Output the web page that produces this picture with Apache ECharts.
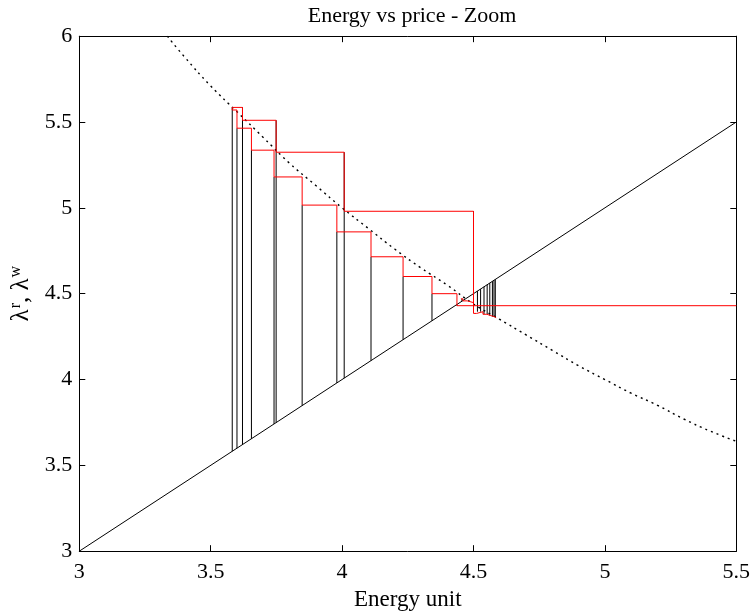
<!DOCTYPE html>
<html>
<head>
<meta charset="utf-8">
<script src="https://cdn.jsdelivr.net/npm/echarts@6/dist/echarts.min.js"></script>
<style>
html, body { margin: 0; padding: 0; background: #fff; }
#chart { width: 751px; height: 611px; }
</style>
</head>
<body>
<div id="chart"></div>
<script>
// Axis ticks
const xTicks = [3, 3.5, 4, 4.5, 5, 5.5];
const yTicks = [3, 3.5, 4, 4.5, 5, 5.5, 6];

// Supply line (lambda = energy)
const supplyX = [3, 5.5];
const supplyY = [3, 5.5];

// Demand curve (dotted)
const demandX = [3.335, 3.4, 3.5, 3.6, 3.7, 3.8, 3.9, 4.0, 4.1, 4.2, 4.3, 4.4, 4.5, 4.6, 4.7, 4.8, 4.9, 5.0, 5.1, 5.2, 5.3, 5.4, 5.5];
const demandY = [6.00, 5.88, 5.71, 5.56, 5.41, 5.26, 5.13, 5.00, 4.88, 4.76, 4.65, 4.55, 4.44, 4.35, 4.26, 4.17, 4.08, 4.00, 3.92, 3.85, 3.77, 3.70, 3.64];

// Upper price staircase: level k spans upperX[k] .. upperX[k+1]
const upperX = [3.582, 3.621, 3.749, 4.008, 4.500];
const upperP = [5.585, 5.510, 5.324, 4.980, 4.385];

// Tail of the upper staircase around 4.5 - 4.58
const tailX = [4.500, 4.512, 4.536, 4.551, 4.566, 4.580, 4.586];
const tailP = [4.385, 4.395, 4.380, 4.372, 4.366, 4.360];

// Lower price staircase: level k spans lowerX[k] .. lowerX[k+1]
const lowerX = [3.582, 3.600, 3.655, 3.741, 3.848, 3.980, 4.110, 4.232, 4.342, 4.437, 5.5];
const lowerP = [5.570, 5.464, 5.336, 5.180, 5.016, 4.860, 4.715, 4.600, 4.500, 4.430];

// Small oscillation near the equilibrium point
const eqX = [4.452, 4.460, 4.460, 4.476, 4.476, 4.500];
const eqY = [4.470, 4.470, 4.458, 4.458, 4.448, 4.448];

// Black bars in the dense cluster right of equilibrium
const clusterX = [4.515, 4.527, 4.540, 4.552, 4.562, 4.572, 4.578, 4.583];
const clusterLow = [4.395, 4.395, 4.380, 4.380, 4.372, 4.366, 4.366, 4.360];

const FONT = 'Liberation Serif';
const RED = '#ff0000';
const BLACK = '#000000';

function zip(xs, ys) { return xs.map((x, i) => [x, ys[i]]); }

// Horizontal-then-vertical staircase polyline
function stairs(xs, ps) {
  const pts = [];
  for (let k = 0; k < ps.length; k++) {
    pts.push([xs[k], ps[k]]);
    pts.push([xs[k + 1], ps[k]]);
    if (k + 1 < ps.length) pts.push([xs[k + 1], ps[k + 1]]);
  }
  return pts;
}

const series = [];

function addPath(pts, color, z) {
  series.push({
    type: 'line', silent: true, showSymbol: false, animation: false,
    color: color, z: z,
    lineStyle: { color: color, width: 1 },
    emphasis: { disabled: true },
    data: pts
  });
}

// Supply diagonal
addPath(zip(supplyX, supplyY), BLACK, 2);

// Demand, dotted
series.push({
  type: 'line', showSymbol: false, animation: false, silent: true, smooth: true,
  color: BLACK, z: 2,
  lineStyle: { color: BLACK, width: 1.4, type: [2, 4] },
  data: zip(demandX, demandY)
});

// Black verticals from the supply line to the price level
addPath([[upperX[0], upperX[0]], [upperX[0], upperP[0]]], BLACK, 2);
for (let j = 1; j < upperX.length; j++) {
  addPath([[upperX[j], upperX[j]], [upperX[j], upperP[j - 1]]], BLACK, 2);
}
for (let i = 1; i < lowerP.length; i++) {
  addPath([[lowerX[i], lowerX[i]], [lowerX[i], lowerP[i]]], BLACK, 2);
}
clusterX.forEach((x, i) => addPath([[x, x], [x, clusterLow[i]]], BLACK, 2));
addPath([[4.456, 4.456], [4.456, 4.470]], BLACK, 2);
addPath([[4.462, 4.462], [4.462, 4.458]], BLACK, 2);

// Red price staircases
addPath([[upperX[0], upperP[0]], [upperX[0], lowerP[0]]], RED, 3);
addPath(stairs(upperX, upperP.slice(0, upperP.length - 1)).concat([[upperX[4], upperP[4]]]), RED, 3);
addPath(stairs(tailX, tailP), RED, 3);
addPath(stairs(lowerX, lowerP), RED, 3);
addPath(zip(eqX, eqY), RED, 3);

const axisCommon = {
  type: 'value',
  interval: 0.5,
  splitLine: { show: false },
  axisLine: { show: true, onZero: false, lineStyle: { color: BLACK, width: 1 } },
  axisTick: { show: true, inside: true, length: 6, lineStyle: { color: BLACK } }
};

const option = {
  backgroundColor: '#fff',
  animation: false,
  tooltip: { show: false },
  title: {
    text: 'Energy vs price - Zoom',
    left: 407, top: 0, textAlign: 'center',
    textStyle: { fontFamily: FONT, fontWeight: 'normal', fontSize: 22, color: BLACK }
  },
  grid: { left: 79.3, right: 14.7, top: 36.18, bottom: 59.82, containLabel: false, outerBoundsMode: 'none' },
  xAxis: [
    Object.assign({}, axisCommon, {
      min: xTicks[0], max: xTicks[xTicks.length - 1], position: 'bottom',
      name: 'Energy unit', nameLocation: 'middle', nameGap: 30,
      nameTextStyle: { fontFamily: FONT, fontSize: 23, color: BLACK },
      axisLabel: { margin: 10, fontFamily: FONT, fontSize: 22, color: BLACK }
    }),
    Object.assign({}, axisCommon, {
      min: xTicks[0], max: xTicks[xTicks.length - 1], position: 'top',
      axisLabel: { show: false }
    })
  ],
  yAxis: [
    Object.assign({}, axisCommon, {
      min: yTicks[0], max: yTicks[yTicks.length - 1], position: 'left',
      name: '{l|λ}{s|r}{l|, λ}{s|w}', nameLocation: 'middle', nameGap: 36, nameRotate: 90,
      nameTextStyle: {
        fontFamily: FONT, fontSize: 25, color: BLACK,
        rich: {
          l: { fontFamily: FONT, fontSize: 25, color: BLACK },
          s: { fontFamily: FONT, fontSize: 16, color: BLACK, padding: [0, 0, 11, 1] }
        }
      },
      axisLabel: { margin: 7, fontFamily: FONT, fontSize: 22, color: BLACK }
    }),
    Object.assign({}, axisCommon, {
      min: yTicks[0], max: yTicks[yTicks.length - 1], position: 'right',
      axisLabel: { show: false }
    })
  ],
  series: series
};

const chart = echarts.init(document.getElementById('chart'), null, { renderer: 'canvas' });
chart.setOption(option);
</script>
</body>
</html>
